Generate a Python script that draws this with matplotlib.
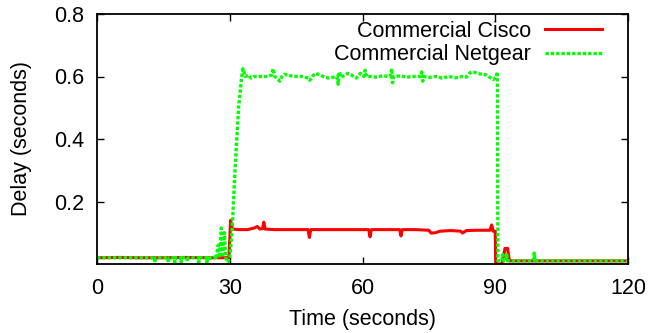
import matplotlib
matplotlib.use("Agg")
import matplotlib.pyplot as plt

plt.rcParams['font.family'] = ['Liberation Sans', 'DejaVu Sans']

cisco_t = [0, 5, 10, 15, 20, 25, 29.8, 30.2, 30.6, 32, 34, 35.5, 36.2, 36.8, 37.4, 37.7, 38.0,
           40, 45, 47.7, 48.0, 48.3, 55, 61.4, 61.7, 62.0, 65, 68.4, 68.7, 69.0, 72, 75, 75.5,
           76.5, 77.5, 80, 82.2, 82.6, 83.5, 86, 88.8, 89.2, 89.5, 90.0, 90.1, 91.5, 92.2, 92.8,
           93.2, 100, 110, 120]
cisco_v = [0.02, 0.021, 0.02, 0.02, 0.021, 0.02, 0.02, 0.14, 0.112, 0.11, 0.11, 0.115, 0.12, 0.112,
           0.113, 0.134, 0.112, 0.11, 0.11, 0.11, 0.085, 0.11, 0.11, 0.11, 0.087, 0.11, 0.11, 0.11,
           0.09, 0.11, 0.11, 0.108, 0.099, 0.1, 0.105, 0.107, 0.105, 0.099, 0.107, 0.108, 0.108,
           0.125, 0.105, 0.105, 0.0, 0.0, 0.05, 0.05, 0.01, 0.01, 0.01, 0.01]

netgear_t = [0, 13.0, 13.1, 13.3, 16.0, 16.1, 16.3, 17.5, 17.6, 17.8, 18.9, 19.0, 19.2, 20.3, 20.4,
             20.6, 22.9, 23.0, 23.2, 24.7, 24.8, 25.0, 25.4, 25.6, 26.6, 26.7, 26.9, 27.4, 27.7,
             28.1, 28.4, 28.8, 29.1, 29.6, 30.0, 30.5, 31.2, 32.0, 32.7, 33.0, 33.5, 34.2, 34.8,
             35.5, 36.5, 37.5, 38.5, 39.5, 39.8, 40.2, 41.0, 41.3, 41.8, 42.3, 43.5, 45, 46.5,
             47.8, 48.1, 48.7, 49.3, 50.5, 51.5, 52.5, 53.5, 54.2, 54.5, 54.7, 55.2, 56.7, 57.5,
             58.6, 59.5, 60.3, 60.6, 60.9, 62, 63, 64.5, 66.3, 66.6, 66.8, 67.1, 68.5, 70, 71.5,
             73.2, 73.4, 73.6, 73.9, 75, 76.5, 78, 79.5, 81, 82.5, 83.5, 84.3, 85, 86, 87, 88,
             89.0, 89.5, 90.3, 90.5, 90.6, 91.5, 91.7, 91.9, 92.5, 92.6, 92.8, 98.6, 98.8, 99.0,
             105, 110, 120]
netgear_v = [0.02, 0.02, 0.005, 0.02, 0.02, 0.005, 0.02, 0.02, 0.005, 0.02, 0.02, 0.005, 0.02, 0.02,
             0.008, 0.02, 0.02, 0.005, 0.02, 0.02, 0.005, 0.02, 0.01, 0.02, 0.02, 0.03, 0.015, 0.06,
             0.02, 0.115, 0.03, 0.1, 0.02, 0.005, 0.02, 0.1, 0.3, 0.5, 0.6, 0.625, 0.6, 0.605, 0.595,
             0.6, 0.6, 0.6, 0.6, 0.605, 0.625, 0.6, 0.59, 0.585, 0.6, 0.607, 0.603, 0.6, 0.6, 0.595,
             0.588, 0.6, 0.61, 0.605, 0.597, 0.595, 0.598, 0.6, 0.575, 0.615, 0.598, 0.61, 0.605,
             0.595, 0.61, 0.6, 0.62, 0.6, 0.6, 0.598, 0.602, 0.6, 0.625, 0.58, 0.6, 0.602, 0.598,
             0.6, 0.6, 0.615, 0.585, 0.6, 0.597, 0.6, 0.595, 0.6, 0.596, 0.6, 0.598, 0.612, 0.615,
             0.61, 0.607, 0.605, 0.595, 0.59, 0.6, 0.615, 0.01, 0.01, 0.03, 0.01, 0.01, 0.03, 0.01,
             0.01, 0.035, 0.01, 0.01, 0.01, 0.01]

x_ticks = [0, 30, 60, 90, 120]
y_ticks = [0.2, 0.4, 0.6, 0.8]
y_tick_labels = ["0.2", "0.4", "0.6", "0.8"]

FS = 15.5
W, H = 650, 333
fig = plt.figure(figsize=(6.5, 3.33), dpi=100)
ax = fig.add_axes([97/W, 1-264/H, (628-97)/W, (264-14)/H])

ax.plot(cisco_t, cisco_v, color='#ff0000', lw=2.2, label='Commercial Cisco')
ax.plot(netgear_t, netgear_v, color='#00ff00', lw=2.4, linestyle=(0, (1, 0.6)),
        label='Commercial Netgear')

ax.set_xlim(0, 120)
ax.set_ylim(0, 0.8)
ax.set_xticks(x_ticks)
ax.set_yticks(y_ticks)
ax.set_yticklabels(y_tick_labels)
ax.tick_params(direction='in', length=5, width=1, top=True, right=True, labelsize=FS)
ax.tick_params(axis='x', pad=10)
ax.tick_params(axis='y', pad=9.5)
for s in ax.spines.values():
    s.set_linewidth(1.3)

fig.text(362.5/W, 1-319/H, 'Time (seconds)', fontsize=FS, ha='center', va='center')
fig.text(22/W, 1-139/H, 'Delay (seconds)', fontsize=FS, ha='center', va='center', rotation=90)

leg = ax.legend(loc='upper right', frameon=False, fontsize=FS, markerfirst=False,
                handlelength=2.65, handletextpad=0.65, labelspacing=0.1,
                borderpad=0, borderaxespad=0,
                bbox_to_anchor=((602-97)/531, 0.972))
for t in leg.get_texts():
    t.set_ha('right')

fig.savefig('out.png', dpi=100)
